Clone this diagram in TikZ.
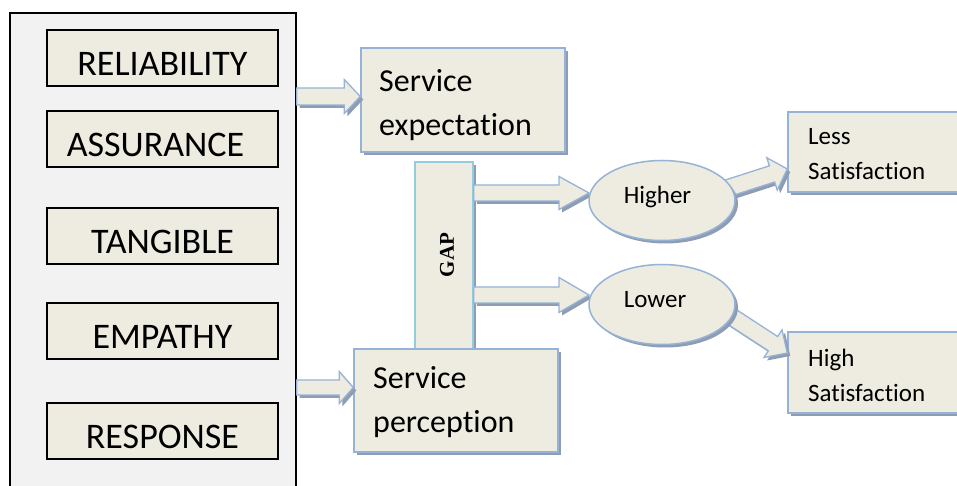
\documentclass[tikz,border=0pt]{standalone}
\usepackage{fontspec}
\setmainfont{Carlito}[Ligatures={NoCommon}]
\newfontfamily\gapfont{Liberation Serif}
\usetikzlibrary{calc,shadows,shapes.geometric}
\definecolor{beige}{HTML}{EEECE1}
\definecolor{bluebd}{HTML}{95B3D7}
\definecolor{shc}{HTML}{8E9DB3}
\definecolor{gapbd}{HTML}{93CDDD}
\definecolor{outerfill}{HTML}{F2F2F2}
\tikzset{
  outerbox/.style={draw=black, line width=1.4pt, fill=outerfill, inner sep=0pt},
  inbox/.style={draw=black, line width=1.2pt, fill=beige, minimum width=231pt, minimum height=56pt, inner sep=0pt, font=\fontsize{36}{43}\selectfont, text height=35pt, text depth=0pt},
  shad/.style={drop shadow={shadow xshift=3pt, shadow yshift=-3pt, fill=shc, opacity=1}},
  bbox/.style={draw=bluebd, line width=1.5pt, fill=beige, inner sep=0pt, shad},
  gaprect/.style={draw=gapbd, line width=1.5pt, fill=beige, inner sep=0pt, minimum width=58pt, minimum height=187pt, shad},
  ell/.style={ellipse, draw=bluebd, line width=1.5pt, fill=beige, inner sep=0pt, minimum width=146pt, minimum height=80pt, shad, font=\fontsize{25}{30}\selectfont, text height=16pt, text depth=10pt},
  stext/.style={anchor=base west, inner sep=0pt, text width=180pt, align=left, font=\fontsize{32}{44}\selectfont},
  rtext/.style={anchor=base west, inner sep=0pt, text width=140pt, align=left, font=\fontsize{25}{35}\selectfont},
  gaptext/.style={rotate=90, inner sep=0pt, font=\gapfont\bfseries\fontsize{21}{21}\selectfont},
  arrmain/.style={fill=beige, draw=bluebd, line width=1.3pt, line join=miter},
  arrshad/.style={fill=shc, transform canvas={shift={(3pt,-3pt)}}}
}
% block arrow: #1 start, #2 tip, #3 shaft half width, #4 head half width, #5 head length
\newcommand{\barrowpath}[6]{%
  \path[#6] let \p1=(#1), \p2=(#2), \n1={atan2(\y2-\y1,\x2-\x1)}, \n2={veclen(\x2-\x1,\y2-\y1)-#5} in
    ($(\p1)+(\n1+90:#3)$) -- ($(\p1)+(\n1:\n2)+(\n1+90:#3)$) -- ($(\p1)+(\n1:\n2)+(\n1+90:#4)$) -- (\p2)
    -- ($(\p1)+(\n1:\n2)+(\n1-90:#4)$) -- ($(\p1)+(\n1:\n2)+(\n1-90:#3)$) -- ($(\p1)+(\n1-90:#3)$) -- cycle;}
\newcommand{\barrow}[5]{\barrowpath{#1}{#2}{#3}{#4}{#5}{arrshad}\barrowpath{#1}{#2}{#3}{#4}{#5}{arrmain}}
\begin{document}
\begin{tikzpicture}[x=1pt,y=1pt]
\useasboundingbox (0,0) rectangle (957,486);
\clip (0,0) rectangle (957,486);
\fill[white] (0,0) rectangle (957,486);
% left panel
\node[outerbox, minimum width=286pt, minimum height=483pt] (outer) at (153,231.5) {};
\node[inbox] (rel) at (162.5,428) {RELIABILITY};
\node[inbox] (ass) at (162.5,347) {ASSURANCE\hspace*{14pt}};
\node[inbox] (tan) at (162.5,250) {TANGIBLE};
\node[inbox] (emp) at (162.5,155) {EMPATHY};
\node[inbox] (resp) at (162.5,55) {RESPONSE};
% service boxes
\node[bbox, minimum width=204pt, minimum height=104pt] (sexp) at (463,386) {};
\node[stext] (sexpt) at (379,394) {Service\\expectation};
\node[gaprect] (gap) at (444,230.5) {};
\node[gaptext] (gapt) at (447,231) {GAP};
\node[bbox, minimum width=204pt, minimum height=103pt] (sper) at (456,85.5) {};
\node[stext] (spert) at (373,97) {Service\\perception};
% right boxes
\node[bbox, minimum width=182pt, minimum height=80pt] (less) at (879,334) {};
\node[rtext] (lesst) at (808,341) {Less\\Satisfaction};
\node[bbox, minimum width=182pt, minimum height=81pt] (high) at (879,113.5) {};
\node[rtext] (hight) at (808,119) {High\\Satisfaction};
% arrows
\coordinate (a1s) at (outer.east |- 0,389.5);
\coordinate (a2s) at (outer.east |- 0,98.5);
\barrow{a1s}{sexp.west |- a1s}{8.5pt}{17pt}{16pt}
\barrow{a2s}{sper.west |- a2s}{7.5pt}{16pt}{14pt}
\coordinate (a3s) at (gap.east |- 0,293);
\coordinate (a4s) at (gap.east |- 0,191);
\coordinate (a3e) at (589,293);
\coordinate (a4e) at (589,191);
\barrow{a3s}{a3e}{8pt}{16.5pt}{30pt}
\barrow{a4s}{a4e}{8pt}{17.5pt}{30pt}
\coordinate (a5s) at (722,296);
\coordinate (a5e) at (less.west |- 0,317);
\coordinate (a6s) at (726,173);
\coordinate (a6e) at (high.west |- 0,133);
\barrow{a5s}{a5e}{8.5pt}{17pt}{16pt}
\barrow{a6s}{a6e}{8.5pt}{16.5pt}{17pt}
% ellipses
\node[ell] (higher) at (662,285.5) {Higher\hspace*{9pt}};
\node[ell] (lower) at (662,181.5) {Lower\hspace*{14pt}};
\end{tikzpicture}
\end{document}
